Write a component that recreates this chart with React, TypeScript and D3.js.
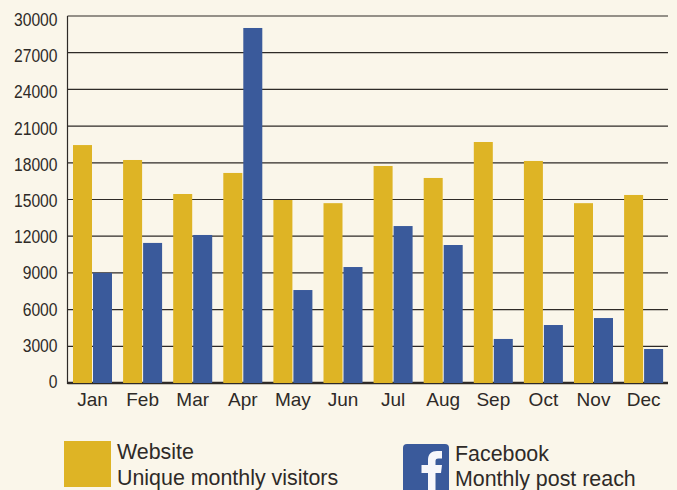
import React from "react";
import * as d3 from "d3";

const months = ["Jan", "Feb", "Mar", "Apr", "May", "Jun", "Jul", "Aug", "Sep", "Oct", "Nov", "Dec"];
const websiteVisitors = [19450, 18230, 15450, 17170, 14960, 14700, 17740, 16760, 19700, 18150, 14700, 15370];
const facebookReach = [9000, 11450, 12100, 29020, 7600, 9480, 12830, 11280, 3600, 4740, 5310, 2780];
const yTicks = [0, 3000, 6000, 9000, 12000, 15000, 18000, 21000, 24000, 27000, 30000];

const width = 677;
const height = 490;
const left = 67.5;
const right = 668;
const top = 16;
const bottom = 383;

const GOLD = "#DEB425";
const BLUE = "#3A5A9B";
const INK = "#2E2A27";
const FONT = "'Liberation Sans', Arial, sans-serif";

const App = () => {
  const x = d3.scaleBand<string>().domain(months).range([left, left + 50.1 * 12]);
  const y = d3.scaleLinear().domain([0, 30000]).range([bottom, top]);
  // the tick labels sit on a slightly tighter spacing than the gridlines
  const labelY = d3.scaleLinear().domain([0, 30000]).range([388, 26]);
  const barWidth = 19;

  return (
    <svg
      width={width}
      height={height}
      style={{ position: "absolute", left: 0, top: 0, display: "block", background: "#FAF6EA" }}
      fontFamily={FONT}
    >
      {/* gridlines */}
      {yTicks.slice(1).map((t) => (
        <line key={t} x1={left} x2={right} y1={y(t)} y2={y(t)} stroke={INK} strokeWidth={1.2} />
      ))}
      <line x1={left} x2={left} y1={top} y2={bottom + 1} stroke={INK} strokeWidth={1.2} />
      <line x1={left} x2={right} y1={bottom} y2={bottom} stroke={INK} strokeWidth={2.4} />

      {/* bars */}
      {months.map((m, i) => (
        <g key={m}>
          <rect
            x={(x(m) as number) + 5.5}
            y={y(websiteVisitors[i])}
            width={barWidth}
            height={bottom - y(websiteVisitors[i])}
            fill={GOLD}
          />
          <rect
            x={(x(m) as number) + 25.5}
            y={y(facebookReach[i])}
            width={barWidth}
            height={bottom - y(facebookReach[i])}
            fill={BLUE}
          />
        </g>
      ))}

      {/* axis labels */}
      {yTicks.map((t) => (
        <text
          key={t}
          transform={`translate(57.5,${labelY(t)}) scale(0.87,1)`}
          textAnchor="end"
          fontSize={18}
          fill={INK}
        >
          {t}
        </text>
      ))}
      {months.map((m) => (
        <text
          key={m}
          x={(x(m) as number) + 25}
          y={406}
          textAnchor="middle"
          fontSize={19}
          fill={INK}
        >
          {m}
        </text>
      ))}

      {/* legend */}
      <rect x={64} y={441} width={47} height={46} fill={GOLD} />
      <text x={117} y={459} fontSize={21.4} fill={INK}>Website</text>
      <text x={117} y={485} fontSize={21.4} fill={INK}>Unique monthly visitors</text>

      <rect x={403} y={444} width={46} height={60} rx={4} fill={BLUE} />
      <path
        d="M428 490 V473 H421.5 V465 H428 V460 C428 454 431.5 451 437 451 H442 V458.5 H438.5 C436 458.5 435.5 459.5 435.5 461.5 V465 H442 L441 473 H435.5 V490 Z"
        fill="#F7F7FB"
      />
      <text x={455} y={461} fontSize={21.4} fill={INK}>Facebook</text>
      <text x={455} y={486} fontSize={21.4} fill={INK}>Monthly post reach</text>
    </svg>
  );
};

export default App;
